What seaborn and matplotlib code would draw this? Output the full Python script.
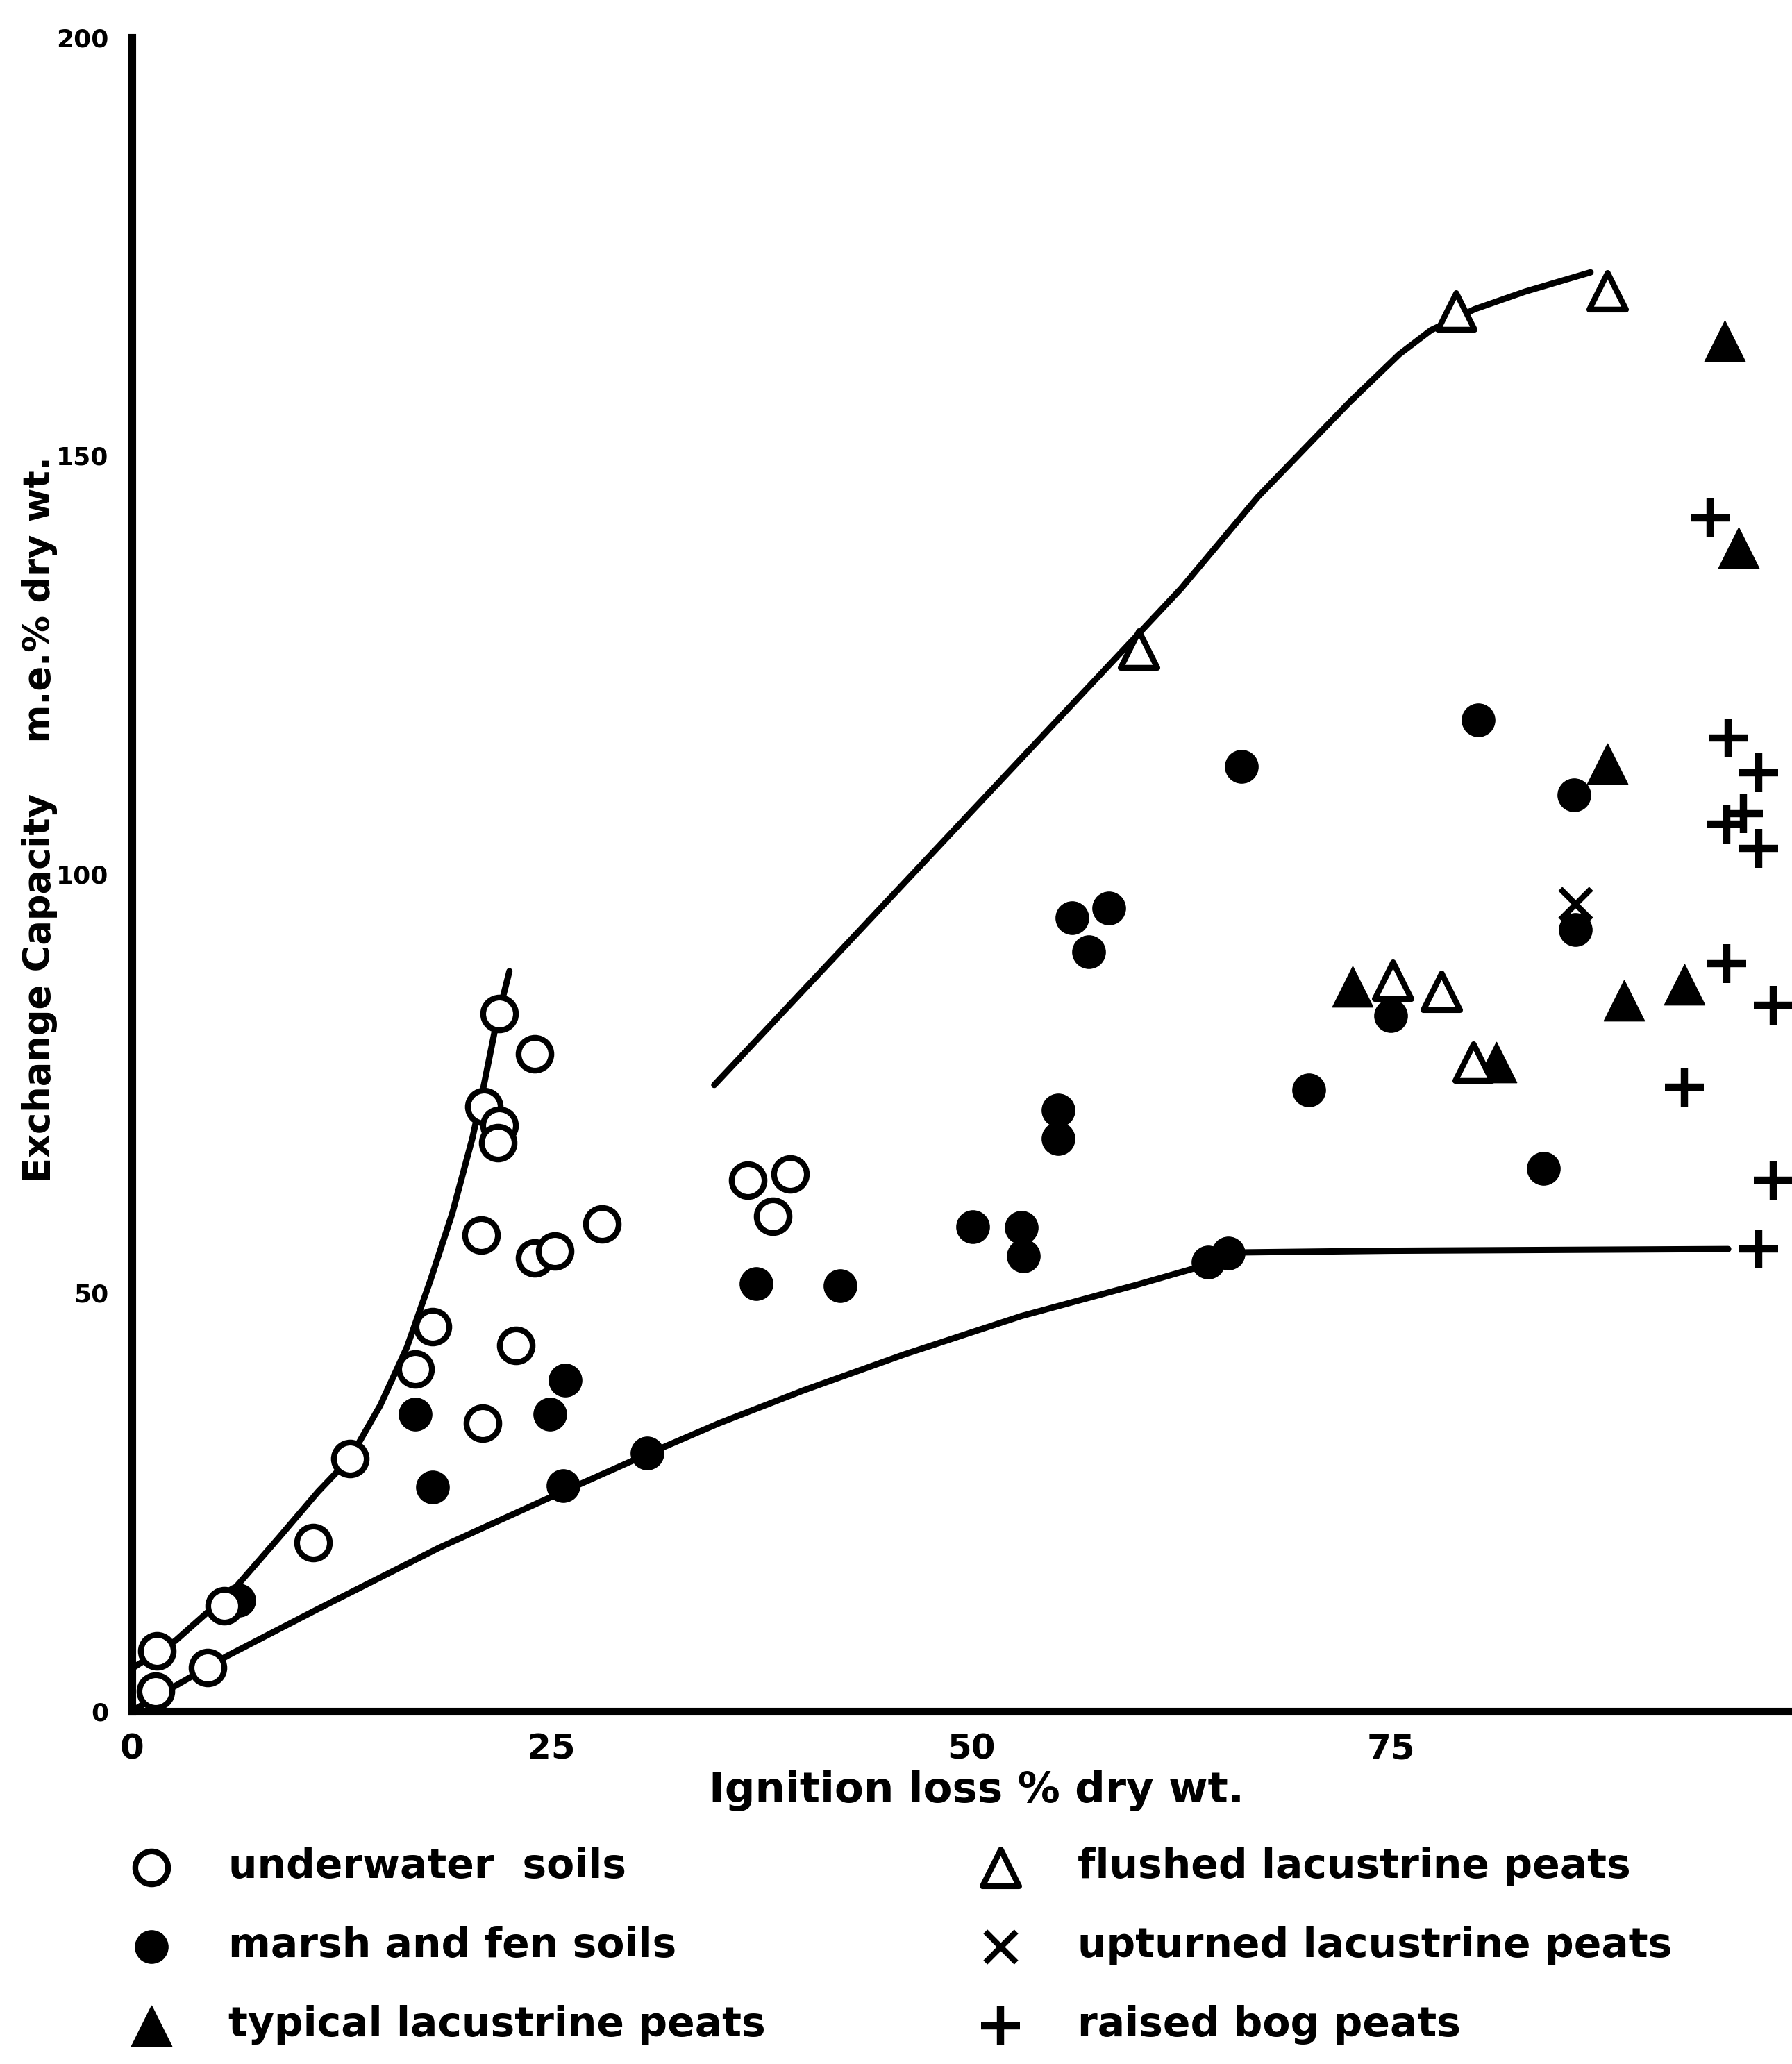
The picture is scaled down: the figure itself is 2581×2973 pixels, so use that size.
import matplotlib
matplotlib.use("Agg")
import matplotlib.pyplot as plt
import seaborn as sns

sns.set_style("white")
plt.rcParams['font.family'] = ['DejaVu Sans']
plt.rcParams['font.weight'] = 'bold'
plt.rcParams['text.color'] = 'black'
plt.rcParams['xtick.color'] = 'black'
plt.rcParams['ytick.color'] = 'black'
plt.rcParams['axes.labelcolor'] = 'black'

# ---------------- data (ignition loss %, exchange capacity m.e.%) ----------------
underwater_x = [1.5, 1.4, 4.5, 5.5, 10.8, 13.0, 16.9, 17.9, 20.9, 22.9, 20.8, 21.0, 21.9, 21.8,
                21.9, 24.0, 24.0, 25.2, 28.0, 36.7, 39.2, 38.2]
underwater_y = [7.2, 2.4, 5.2, 12.6, 20.1, 30.2, 40.9, 45.9, 34.4, 43.7, 56.9, 72.2, 70.0, 67.9,
                83.3, 78.5, 54.1, 55.0, 58.2, 63.4, 64.2, 59.1]

marsh_x = [6.4, 16.9, 17.9, 24.9, 25.8, 25.7, 30.7, 37.2, 42.2, 50.1, 53.0, 53.1, 55.2, 55.2,
           56.0, 58.2, 57.0, 64.1, 65.3, 66.1, 70.1, 75.0, 80.2, 84.1, 85.9, 86.0]
marsh_y = [13.2, 35.5, 26.8, 35.5, 39.5, 26.9, 30.8, 51.1, 50.8, 57.9, 57.8, 54.4, 71.8, 68.4,
           94.8, 95.9, 90.7, 53.6, 54.7, 112.9, 74.2, 83.1, 118.4, 64.8, 109.5, 93.4]

typical_x = [94.9, 95.7, 87.9, 72.7, 88.9, 81.3, 92.5]
typical_y = [163.7, 139.0, 113.2, 86.6, 84.9, 77.5, 86.8]

flushed_x = [78.9, 87.9, 60.0, 75.1, 78.0, 79.9]
flushed_y = [167.3, 169.7, 126.9, 87.3, 86.0, 77.5]

upturned_x = [86.0]
upturned_y = [96.4]

raised_x = [94.0, 95.1, 96.9, 95.0, 96.0, 96.9, 95.0, 97.8, 92.5, 97.8, 96.9]
raised_y = [142.6, 116.3, 112.1, 106.0, 107.2, 103.1, 89.3, 84.3, 74.5, 63.4, 55.2]

# hand-drawn boundary curves
curve_upper_x = [0.1, 2.6, 6.2, 8.8, 11.1, 13.0, 14.8, 16.4, 17.8, 19.1, 20.3, 21.0, 21.7, 22.5]
curve_upper_y = [5.2, 8.4, 14.8, 20.8, 26.2, 30.2, 36.5, 43.5, 51.5, 59.5, 68.5, 75.0, 82.0, 88.4]

curve_lower_x = [0.0, 5.7, 11.1, 18.3, 24.9, 30.6, 35.0, 40.0, 46.0, 53.0, 60.0, 64.0, 66.0, 75.0, 85.0, 95.1]
curve_lower_y = [0.0, 6.6, 12.2, 19.5, 25.5, 30.6, 34.4, 38.3, 42.6, 47.2, 51.0, 53.3, 54.8, 55.0, 55.1, 55.2]

curve_flushed_x = [34.7, 62.5, 67.1, 72.5, 75.5, 77.4, 80.0, 83.0, 86.9]
curve_flushed_y = [74.8, 134.1, 145.1, 156.3, 162.1, 165.0, 167.5, 169.6, 171.9]

x_ticks = [0, 25, 50, 75]
y_ticks = [0, 50, 100, 150, 200]
x_label = "Ignition loss % dry wt."
y_label = "Exchange Capacity    m.e.% dry wt."

labels = ["underwater  soils", "marsh and fen soils", "typical lacustrine peats",
          "flushed lacustrine peats", "upturned lacustrine peats", "raised bog peats"]

# ---------------- figure ----------------
fig = plt.figure(figsize=(25.81, 29.73), dpi=100)
ax = fig.add_axes([0.0735, 0.171, 0.9265, 0.811])

for cx, cy in [(curve_upper_x, curve_upper_y), (curve_lower_x, curve_lower_y),
               (curve_flushed_x, curve_flushed_y)]:
    sns.lineplot(x=cx, y=cy, sort=False, estimator=None, color="black", lw=6.5, ax=ax, zorder=2)

BIG = 34
sns.scatterplot(x=underwater_x, y=underwater_y, marker="o", s=BIG**2, facecolor="white",
                edgecolor="black", linewidth=6, ax=ax, zorder=4, label=labels[0])
sns.scatterplot(x=marsh_x, y=marsh_y, marker="o", s=BIG**2, color="black",
                edgecolor="black", linewidth=1, ax=ax, zorder=3, label=labels[1])
sns.scatterplot(x=typical_x, y=typical_y, marker="^", s=42**2, color="black",
                edgecolor="black", linewidth=1, ax=ax, zorder=3, label=labels[2])
sns.scatterplot(x=flushed_x, y=flushed_y, marker="^", s=38**2, facecolor="white",
                edgecolor="black", linewidth=6, ax=ax, zorder=4, label=labels[3])
sns.scatterplot(x=upturned_x, y=upturned_y, marker="x", s=32**2, color="black",
                linewidth=6, ax=ax, zorder=5, label=labels[4])
sns.scatterplot(x=raised_x, y=raised_y, marker="+", s=40**2, color="black",
                linewidth=7.5, ax=ax, zorder=5, label=labels[5])

ax.set_xlim(0, 98.9)
ax.set_ylim(0, 200)
ax.set_xticks(x_ticks)
ax.set_yticks(y_ticks)
for s in ["top", "right"]:
    ax.spines[s].set_visible(False)
for s in ["left", "bottom"]:
    ax.spines[s].set_linewidth(8)
    ax.spines[s].set_color("black")
ax.tick_params(axis="x", direction="in", length=16, width=4, labelsize=36, pad=22)
ax.tick_params(axis="y", direction="in", length=16, width=4, labelsize=26, pad=24)
ax.grid(False)
ax.set_xlabel("")
ax.set_ylabel("")

fig.text(0.545, 0.1325, x_label, ha="center", va="center", fontsize=44, fontweight="bold")
fig.text(0.022, 0.603, y_label, ha="center", va="center", rotation=90, fontsize=38,
         fontweight="bold")

handles, labs = ax.get_legend_handles_labels()
if ax.get_legend() is not None:
    ax.get_legend().remove()
order = [labs.index(l) for l in labels]
fig.legend([handles[i] for i in order], labels, ncol=2, loc="upper left",
           bbox_to_anchor=(0.053, 0.123), frameon=False, fontsize=42,
           handlelength=1.0, handletextpad=1.4, columnspacing=5.3, labelspacing=0.98,
           markerscale=1.0)

fig.savefig("out.png", dpi=100, facecolor="white")
